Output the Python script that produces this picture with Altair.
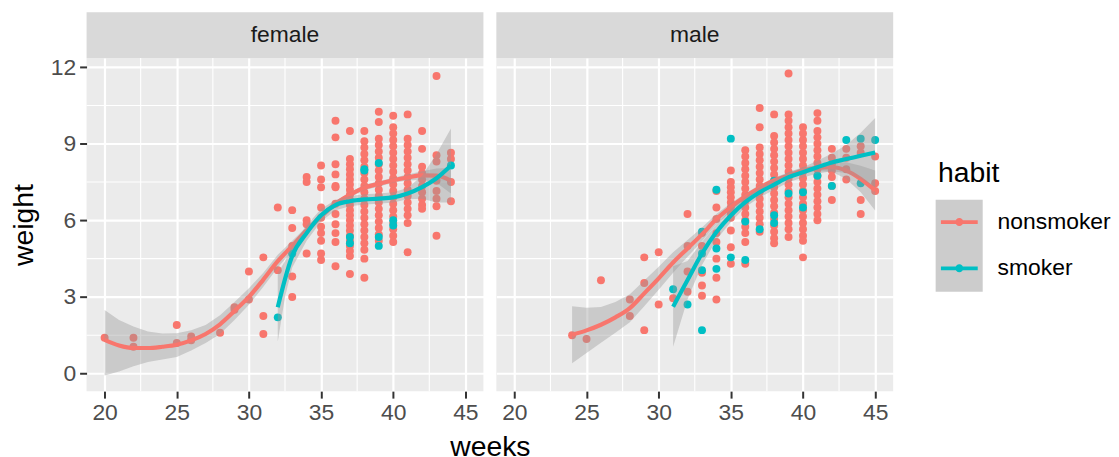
import altair as alt
import pandas as pd

# ---------------- data ----------------
habits = ["nonsmoker", "smoker"]
habit_colors = ["#F8766D", "#00BFC4"]
x_ticks = [20, 25, 30, 35, 40, 45]
x_minor = [22.5, 27.5, 32.5, 37.5, 42.5]
y_ticks = [0, 3, 6, 9, 12]
y_minor = [1.5, 4.5, 7.5, 10.5]

# points: week -> list of weights
female_nonsmoker = {
    20: [1.4], 22: [1.4, 1.05], 25: [1.9, 1.2], 26: [1.45, 1.3], 28: [1.6],
    29: [2.6, 2.5], 30: [4.0, 2.9], 31: [4.55, 2.25, 1.55], 32: [6.5, 4.05],
    33: [6.4, 5.7, 5.0, 3.8, 3.0],
    34: [7.7, 7.5, 6.0, 5.85, 4.7],
    35: [8.15, 7.6, 7.3, 6.5, 6.1, 5.75, 5.5, 5.2, 4.7, 4.45],
    36: [9.9, 9.25, 8.2, 7.8, 7.35, 7.3, 6.65, 6.25, 5.85, 5.5, 5.15, 4.2],
    37: [9.5, 8.4, 8.2, 8.0, 7.8, 7.6, 7.4, 7.2, 7.0, 6.8, 6.6, 6.4, 6.2, 6.0,
         5.8, 5.6, 5.4, 5.2, 5.0, 4.8, 4.6, 3.9],
    38: [9.5, 9.1, 8.85, 8.6, 8.35, 8.1, 7.85, 7.6, 7.35, 7.1, 6.85, 6.6, 6.35,
         6.1, 5.85, 5.6, 5.35, 5.1, 4.85, 4.5, 3.75],
    39: [10.25, 9.85, 9.2, 8.95, 8.7, 8.45, 8.2, 7.95, 7.7, 7.45, 7.2, 6.95,
         6.7, 6.45, 6.2, 5.95, 5.7, 5.45, 5.2],
    40: [10.1, 9.65, 9.4, 9.15, 8.9, 8.65, 8.4, 8.15, 7.9, 7.65, 7.4, 7.15,
         6.9, 6.65, 6.4, 6.15, 5.9, 5.65, 5.4, 5.15],
    41: [10.15, 9.2, 8.95, 8.7, 8.45, 8.2, 7.95, 7.7, 7.45, 7.2, 6.95, 6.7,
         6.45, 6.2, 5.9, 4.75],
    42: [9.5, 8.8, 8.1, 7.85, 7.6, 7.35, 7.1, 6.85, 6.6, 6.45],
    43: [11.65, 8.55, 8.3, 7.55, 7.15, 6.85, 6.55, 5.4],
    44: [8.65, 8.4, 7.5, 6.75],
}
female_smoker = {
    32: [2.2], 33: [4.7], 37: [5.35, 5.1], 38: [8.0, 7.95], 39: [8.25, 5.35, 5.0],
    40: [6.0, 5.8], 44: [8.15],
}
male_nonsmoker = {
    24: [1.5], 25: [1.35], 26: [3.65], 28: [2.9, 2.25], 29: [4.55, 3.55, 1.7],
    30: [4.75, 2.7], 31: [2.95], 32: [6.25, 5.0, 4.0, 3.2],
    33: [5.5, 5.0, 3.95, 3.45, 3.05],
    34: [7.15, 6.5, 6.05, 5.5, 5.15, 4.5, 3.75, 2.9],
    35: [7.95, 7.5, 7.3, 7.1, 6.9, 6.7, 6.5, 6.3, 6.1, 5.6, 4.95, 4.3],
    36: [8.75, 8.5, 8.25, 8.0, 7.75, 7.5, 7.25, 7.0, 6.75, 6.5, 6.25, 6.0,
         5.75, 5.5, 5.15, 4.3],
    37: [10.4, 9.65, 8.85, 8.6, 8.35, 8.1, 7.85, 7.6, 7.35, 7.1, 6.85, 6.6,
         6.35, 6.1, 5.85, 5.55],
    38: [10.15, 9.3, 9.05, 8.8, 8.55, 8.3, 8.05, 7.8, 7.55, 7.3, 7.05, 6.8,
         6.55, 6.3, 6.05, 5.8, 5.55, 5.3, 5.1],
    39: [11.75, 10.15, 9.9, 9.65, 9.4, 9.15, 8.9, 8.65, 8.4, 8.15, 7.9, 7.65,
         7.4, 7.15, 6.9, 6.65, 6.4, 6.15, 5.9, 5.65, 5.35],
    40: [9.65, 9.4, 9.15, 8.9, 8.65, 8.4, 8.15, 7.9, 7.65, 7.4, 7.15, 6.9,
         6.65, 6.4, 6.15, 5.9, 5.65, 5.4, 5.2, 4.55],
    41: [10.2, 9.9, 9.5, 9.25, 9.0, 8.75, 8.5, 8.25, 8.0, 7.75, 7.5, 7.25,
         7.0, 6.75, 6.5, 6.25, 6.0],
    42: [8.8, 8.45, 8.2, 7.95, 7.7, 7.35, 6.8],
    43: [8.8, 8.45, 8.0, 7.6],
    44: [8.9, 8.65, 6.8, 6.25],
    45: [8.5, 7.45, 7.15],
}
male_smoker = {
    31: [3.3], 32: [2.7], 33: [5.55, 4.7, 4.05, 1.7], 34: [7.2, 4.9, 4.1],
    35: [9.2, 4.55], 36: [5.95, 4.45], 37: [5.65], 38: [7.55, 6.2, 5.9],
    39: [7.05], 40: [7.1, 6.5], 41: [7.75], 42: [7.35], 43: [9.15],
    44: [9.2, 7.45], 45: [9.15],
}

# smoothed curves (fit, lower, upper)
fn_weeks = [20, 21, 22, 23, 24, 25, 26, 27, 28, 29, 30, 31, 32, 33, 34, 35,
            36, 37, 38, 39, 40, 41, 42, 43, 44]
fn_fit = [1.32, 1.1, 1.0, 1.0, 1.05, 1.13, 1.3, 1.55, 1.93, 2.45, 3.0, 3.68,
          4.4, 5.0, 5.6, 6.15, 6.65, 7.0, 7.28, 7.43, 7.57, 7.68, 7.76, 7.75, 7.55]
fn_lo = [-0.08, 0.08, 0.29, 0.45, 0.55, 0.65, 0.9, 1.2, 1.55, 2.1, 2.69, 3.4,
         4.15, 4.8, 5.45, 6.02, 6.55, 6.9, 7.18, 7.33, 7.47, 7.56, 7.6, 7.47, 7.05]
fn_hi = [2.49, 2.1, 1.84, 1.65, 1.57, 1.58, 1.7, 1.9, 2.28, 2.8, 3.34, 3.95,
         4.65, 5.2, 5.75, 6.28, 6.75, 7.1, 7.38, 7.53, 7.67, 7.8, 7.92, 8.03, 8.05]

fs_weeks = [32, 32.5, 33, 34, 35, 36, 37, 38, 39, 40, 41, 42, 43, 44]
fs_fit = [2.6, 3.7, 4.6, 5.5, 6.2, 6.6, 6.75, 6.82, 6.85, 6.9, 7.05, 7.3, 7.65, 8.15]
fs_lo = [1.25, 3.0, 4.15, 5.2, 5.95, 6.4, 6.55, 6.62, 6.65, 6.7, 6.83, 6.85, 6.7, 6.7]
fs_hi = [3.95, 4.4, 5.05, 5.8, 6.45, 6.8, 6.95, 7.02, 7.05, 7.1, 7.27, 7.75, 8.6, 9.6]

mn_weeks = [24, 25, 26, 27, 28, 29, 30, 31, 32, 33, 34, 35, 36, 37, 38, 39,
            40, 41, 42, 43, 44, 45]
mn_fit = [1.52, 1.69, 1.91, 2.2, 2.56, 3.14, 3.73, 4.35, 4.9, 5.45, 6.05, 6.52,
          6.93, 7.27, 7.56, 7.75, 7.95, 8.05, 8.08, 7.95, 7.62, 7.17]
mn_lo = [0.4, 0.8, 1.21, 1.6, 2.01, 2.64, 3.28, 3.95, 4.57, 5.18, 5.85, 6.37,
         6.81, 7.15, 7.44, 7.63, 7.83, 7.93, 7.9, 7.62, 7.1, 6.39]
mn_hi = [2.64, 2.58, 2.61, 2.8, 3.11, 3.64, 4.18, 4.75, 5.23, 5.72, 6.25, 6.67,
         7.05, 7.39, 7.68, 7.87, 8.07, 8.17, 8.26, 8.28, 8.14, 7.95]

ms_weeks = [31, 32, 33, 34, 35, 36, 37, 38, 39, 40, 41, 42, 43, 44, 45]
ms_fit = [2.62, 3.66, 4.7, 5.54, 6.19, 6.71, 7.1, 7.4, 7.69, 7.88, 8.08, 8.27,
          8.4, 8.53, 8.66]
ms_lo = [1.05, 2.91, 4.25, 5.24, 5.94, 6.51, 6.9, 7.2, 7.49, 7.68, 7.83, 7.92,
         7.85, 7.63, 7.31]
ms_hi = [4.2, 4.41, 5.15, 5.84, 6.44, 6.91, 7.3, 7.6, 7.89, 8.08, 8.33, 8.62,
         8.95, 9.43, 10.01]


def points_frame(d, habit):
    rows = []
    for wk, vals in d.items():
        for v in vals:
            rows.append({"weeks": wk, "weight": v, "habit": habit})
    return pd.DataFrame(rows)


def curve_frame(wk, fit, lo, hi):
    return pd.DataFrame({"weeks": wk, "fit": fit, "lo": lo, "hi": hi})


W, H, STRIP_H = 399, 335, 46
XDOM = [18.75, 46.25]
YDOM = [-0.69, 12.36]
PANEL_BG = "#EBEBEB"

color_scale = alt.Scale(domain=habits, range=habit_colors)

legend_path = ("M-1,-0.1L1,-0.1L1,0.1L-1,0.1Z "
               "M0.22,0A0.22,0.22,0,1,1,-0.22,0A0.22,0.22,0,1,1,0.22,0Z")


def make_panel(pts, cn, cs, left):
    xscale = alt.Scale(domain=XDOM, nice=False, zero=False)
    yscale = alt.Scale(domain=YDOM, nice=False, zero=False)
    if left:
        xaxis = alt.Axis(values=x_ticks, title="weeks", titleX=W + 6.5, titleY=65,
                         titleAlign="center", titleBaseline="alphabetic",
                         titleAnchor="start")
        yaxis = alt.Axis(values=y_ticks, title="weight", titleX=-63, titleY=H / 2,
                         titleAlign="center", titleBaseline="middle",
                         titleAngle=270, titleAnchor="start")
    else:
        xaxis = alt.Axis(values=x_ticks, title=None)
        yaxis = alt.Axis(values=y_ticks, title=None, labels=False, ticks=False)

    minor_x = alt.Chart(pd.DataFrame({"v": x_minor})).mark_rule(
        color="white", strokeWidth=1.1).encode(
        x=alt.X("v:Q", scale=xscale, axis=xaxis))
    minor_y = alt.Chart(pd.DataFrame({"v": y_minor})).mark_rule(
        color="white", strokeWidth=1.1).encode(
        y=alt.Y("v:Q", scale=yscale, axis=yaxis))

    points = alt.Chart(pts).mark_circle(size=64, opacity=1).encode(
        x=alt.X("weeks:Q", scale=xscale),
        y=alt.Y("weight:Q", scale=yscale),
        color=alt.Color("habit:N", scale=color_scale, legend=alt.Legend(
            title="habit", symbolType=legend_path, symbolSize=1369,
            symbolStrokeWidth=0, symbolOpacity=1, orient="none",
            legendX=856, legendY=148, symbolOffset=3, labelOffset=20,
            rowPadding=15.5, titlePadding=16)),
    )

    def band(df):
        return alt.Chart(df).mark_area(color="#999999", opacity=0.4).encode(
            x=alt.X("weeks:Q", scale=xscale), y=alt.Y("lo:Q", scale=yscale), y2="hi:Q")

    def line(df, col):
        return alt.Chart(df).mark_line(color=col, strokeWidth=4.2,
                                       interpolate="monotone").encode(
            x=alt.X("weeks:Q", scale=xscale), y=alt.Y("fit:Q", scale=yscale))

    layers = [minor_x, minor_y, points, band(cn), line(cn, habit_colors[0]),
              band(cs), line(cs, habit_colors[1])]
    if not left:
        key_bg = alt.Chart(pd.DataFrame({"k": [0]})).mark_rect(
            color="#CCCCCC").encode(
            x=alt.value(441.7), x2=alt.value(489), y=alt.value(142.6), y2=alt.value(235))
        layers.append(key_bg)
    return alt.layer(*layers).properties(
        width=W, height=H, view=alt.ViewBackground(fill=PANEL_BG, stroke=None))


def make_strip(label):
    return alt.Chart(pd.DataFrame({"label": [label]})).mark_text(
        fontSize=23, color="#1A1A1A", font="Liberation Sans", baseline="middle").encode(
        text="label:N", x=alt.value(W / 2), y=alt.value(STRIP_H / 2)
    ).properties(width=W, height=STRIP_H,
                 view=alt.ViewBackground(fill="#D9D9D9", stroke=None))


pts_f = pd.concat([points_frame(female_nonsmoker, "nonsmoker"),
                   points_frame(female_smoker, "smoker")], ignore_index=True)
pts_m = pd.concat([points_frame(male_nonsmoker, "nonsmoker"),
                   points_frame(male_smoker, "smoker")], ignore_index=True)

panel_f = make_panel(pts_f, curve_frame(fn_weeks, fn_fit, fn_lo, fn_hi),
                     curve_frame(fs_weeks, fs_fit, fs_lo, fs_hi), True)
panel_m = make_panel(pts_m, curve_frame(mn_weeks, mn_fit, mn_lo, mn_hi),
                     curve_frame(ms_weeks, ms_fit, ms_lo, ms_hi), False)

chart = alt.concat(make_strip("female"), make_strip("male"), panel_f, panel_m,
                   columns=2, spacing={"row": 0, "column": 13}, bounds="flush"
).properties(
    padding={"left": 2, "top": 3, "right": 0, "bottom": 0},
    background="white",
).configure_axis(
    grid=True, gridColor="white", gridWidth=2.2, domain=False,
    tickColor="#333333", tickWidth=2, tickSize=7,
    labelFont="Liberation Sans", labelFontSize=23, labelColor="#4D4D4D",
    labelPadding=4, titleFont="Liberation Sans", titleFontSize=28.5,
    titleColor="black", titleFontWeight="normal",
).configure_legend(
    labelFont="Liberation Sans", labelFontSize=23, labelColor="black",
    titleFont="Liberation Sans", titleFontSize=28.5, titleColor="black",
    titleFontWeight="normal",
).configure_view(stroke=None)

chart.save("out.html", embed_options={"renderer": "svg", "actions": False})
